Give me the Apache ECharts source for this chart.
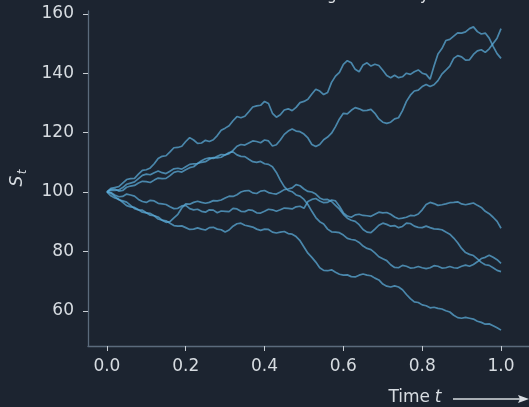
<!DOCTYPE html>
<html>
<head>
<meta charset="utf-8">
<script src="https://cdn.jsdelivr.net/npm/echarts@6/dist/echarts.min.js"></script>
<style>
  html, body { margin: 0; padding: 0; background: #1c2430; }
  #chart { width: 529px; height: 407px; }
</style>
</head>
<body>
<div id="chart"></div>
<script>
// Sample times (years) shared by every simulated price path
const times = [
  0.00, 0.01, 0.02, 0.03, 0.04, 0.05, 0.06, 0.07, 0.08, 0.09,
  0.10, 0.11, 0.12, 0.13, 0.14, 0.15, 0.16, 0.17, 0.18, 0.19,
  0.20, 0.21, 0.22, 0.23, 0.24, 0.25, 0.26, 0.27, 0.28, 0.29,
  0.30, 0.31, 0.32, 0.33, 0.34, 0.35, 0.36, 0.37, 0.38, 0.39,
  0.40, 0.41, 0.42, 0.43, 0.44, 0.45, 0.46, 0.47, 0.48, 0.49,
  0.50, 0.51, 0.52, 0.53, 0.54, 0.55, 0.56, 0.57, 0.58, 0.59,
  0.60, 0.61, 0.62, 0.63, 0.64, 0.65, 0.66, 0.67, 0.68, 0.69,
  0.70, 0.71, 0.72, 0.73, 0.74, 0.75, 0.76, 0.77, 0.78, 0.79,
  0.80, 0.81, 0.82, 0.83, 0.84, 0.85, 0.86, 0.87, 0.88, 0.89,
  0.90, 0.91, 0.92, 0.93, 0.94, 0.95, 0.96, 0.97, 0.98, 0.99, 1.00];

// Six simulated price paths S_t, all starting at 100
const pathA = [
  100, 101.2, 101.5, 101.8, 103, 104.2, 104.5, 104.6, 106, 107.3,
  107.5, 108.1, 109.5, 111.3, 112, 112.2, 113.5, 114.9, 115, 115.4,
  117, 118.3, 117.5, 116.4, 116.5, 117.4, 117, 117.6, 119, 120.8,
  121.5, 122.3, 124, 125.4, 125, 125.5, 127, 128.6, 129, 129.2,
  130.5, 129.8, 126.5, 125.2, 126, 127.6, 128, 127.4, 128.5, 130.1,
  130.5, 131.2, 133, 134.6, 134, 132.8, 133.5, 136.9, 139, 140.3,
  143, 144.2, 143.5, 141.3, 140.5, 142.8, 143.5, 142.4, 143, 142.6,
  141, 139.2, 138.5, 139.3, 138.5, 138.8, 140, 139.6, 140.5, 141.1,
  140, 139.6, 138, 142.4, 146.5, 148.3, 151, 151.4, 152.5, 153.6,
  153.5, 153.9, 155, 155.6, 154, 153.2, 153.5, 151.8, 149, 146.6, 145];
const pathB = [
  100, 100.6, 100.5, 100.7, 101.5, 102.6, 103, 103.4, 104.5, 105.6,
  106, 105.8, 106.5, 107.1, 106.5, 106.2, 107, 107.8, 108, 107.7,
  108.5, 109.3, 109.5, 109.6, 110.5, 111.2, 111.5, 111.3, 112, 112.6,
  112.5, 112.9, 114, 115.4, 116, 115.8, 116.5, 117.2, 117, 116.6,
  117.5, 117.2, 115.5, 115.9, 117.5, 119.4, 120.5, 121.2, 120.5, 120.3,
  119.5, 118.2, 116, 115.3, 116, 117.6, 118.5, 119.8, 122, 124.6,
  126.5, 126.3, 127.5, 128.4, 128, 127.4, 127.5, 127.8, 126.5, 124.6,
  123.5, 123.1, 123.5, 124.6, 125, 127.4, 130.5, 132.6, 134, 134.3,
  135.5, 136.2, 135.5, 136.1, 137.5, 139.7, 141, 142.4, 145, 145.9,
  145.5, 144.4, 144.5, 146.3, 147.5, 147.9, 147, 148.2, 150, 151.8, 155];
const pathC = [
  100, 100.9, 101, 100.3, 100.5, 101.6, 102, 102.2, 103, 103.6,
  103.5, 103.2, 104, 104.7, 104.5, 104.6, 105.5, 106.6, 107, 106.7,
  107.5, 108.2, 108.5, 109.6, 110, 110.2, 111, 111.6, 111.5, 111.7,
  112.5, 113.3, 113.5, 112.5, 112, 111.9, 111, 110.2, 110, 110.3,
  109.5, 109.3, 108.5, 106.6, 104, 101.8, 100.5, 100.1, 99, 98.6,
  97.5, 95.8, 93.5, 91.4, 90, 89.2, 87.5, 86.6, 86.5, 86.3,
  85.5, 84.4, 84, 83.8, 83, 81.8, 81, 80.6, 79.5, 78.2,
  77.5, 76.9, 75.5, 74.6, 74.5, 75.3, 75, 74.4, 74.5, 74.9,
  74.5, 74.2, 74.5, 75.2, 75, 74.4, 74.5, 74.9, 74.5, 74.4,
  75, 75.4, 75, 75.6, 76.5, 77.6, 78, 78.7, 78, 77.2, 76];
const pathD = [
  100, 99.8, 99, 98.4, 98.5, 99.3, 99, 98.6, 97.5, 96.8,
  96.5, 97.2, 97, 96.2, 96, 95.8, 95, 94.4, 94.5, 95.3,
  95.5, 94.4, 94, 94.2, 93.5, 93.2, 94, 93.9, 93, 93.6,
  93.5, 93.4, 94.5, 94.3, 93.5, 93.4, 94, 93.8, 93, 92.9,
  93.5, 94.2, 94, 93.5, 94, 94.6, 94.5, 94.3, 95, 95.2,
  94.5, 96.8, 97.5, 97.8, 97, 96.4, 96.5, 97.3, 97, 95.2,
  93, 91.9, 91.5, 92.3, 92.5, 92.1, 92, 91.8, 92.5, 93.2,
  93, 93.1, 92.5, 91.6, 91, 91.2, 91.5, 92.1, 92, 92.6,
  94, 95.8, 96.5, 96.1, 95.5, 95.7, 96, 96.4, 96.5, 96.7,
  96, 95.7, 96, 96.3, 95.5, 94.8, 93.5, 92.7, 91.5, 90.1, 87.8];
const pathE = [
  100, 99.6, 98.5, 97.4, 97, 96.6, 95.5, 94.4, 94, 93.9,
  93, 92.2, 92, 91.6, 90.5, 89.8, 90, 91.3, 92.5, 94.6,
  96, 95.9, 96.5, 96.9, 96.5, 96.2, 96.5, 97.1, 97, 97.3,
  98, 98.6, 98.5, 99.1, 100, 100.4, 100.5, 99.7, 99.5, 100.3,
  100.5, 99.8, 99.5, 99.3, 100, 100.8, 101, 101.4, 102.5, 102.1,
  101, 100.2, 100, 99.3, 98, 97.4, 97.5, 96.8, 95.5, 94.2,
  92.5, 91.2, 90.5, 90.1, 89, 87.4, 86.5, 86.3, 87.5, 88.8,
  89.5, 89.1, 88.5, 88.7, 88, 88.4, 89.5, 89.4, 88.5, 88.1,
  88, 88.5, 88, 87.6, 87.5, 87.3, 86.5, 85.8, 84.5, 82.9,
  81, 79.6, 79, 78.6, 77.5, 76.3, 75.5, 75.3, 74.5, 73.6, 73.2];
const pathF = [
  100, 98.7, 98, 97.6, 96.5, 95.4, 95, 94.8, 94, 93.2,
  93, 92.8, 92, 90.9, 90.5, 90.3, 89.5, 88.7, 88.5, 88.6,
  88, 87.4, 87.5, 87.9, 87.5, 87.2, 88, 88.1, 87.5, 87.3,
  86.5, 87.2, 88.5, 89.3, 89.5, 88.8, 88.5, 88.2, 87.5, 87.1,
  87.5, 87.4, 86.5, 86.2, 86.5, 86.7, 86, 85.8, 85, 83.6,
  81.5, 79.4, 78, 76.4, 74.5, 73.6, 73.5, 73.8, 73, 72.3,
  72, 72.1, 71.5, 71.4, 72, 72.4, 72, 71.8, 71, 70.4,
  69, 68.3, 68, 68.4, 68, 67.1, 65.5, 64.1, 63, 62.8,
  62, 61.7, 61, 61.2, 60.8, 60.6, 60, 59.6, 58.5, 57.7,
  57.5, 57.8, 57.5, 57.2, 56.5, 56.1, 55.5, 55.6, 55, 54.3, 53.5];

const paths = [pathA, pathB, pathC, pathD, pathE, pathF];

// Axis tick positions
const timeTicks = [0, 0.2, 0.4, 0.6, 0.8, 1.0];
const priceTicks = [60, 80, 100, 120, 140, 160];

const BG = '#1c2430';
const SPINE = '#5b6b7c';
const TEXT = '#d7dce1';
const LINE = '#5aaad6';
const FONT = '"DejaVu Sans", sans-serif';

const chart = echarts.init(document.getElementById('chart'), null, { renderer: 'canvas' });

const series = paths.map((vals, i) => ({
  type: 'line',
  name: 'path ' + (i + 1),
  data: vals.map((v, k) => [times[k], v]),
  showSymbol: false,
  symbol: 'none',
  smooth: false,
  lineStyle: { color: LINE, width: 1.7, opacity: 0.74 },
  emphasis: { disabled: true },
  silent: true
}));

chart.setOption({
  backgroundColor: BG,
  animation: false,
  grid: { left: 88, right: 0, top: 11, bottom: 61, containLabel: false },
  xAxis: {
    type: 'value',
    min: -0.048,
    max: 1.071,
    axisLine: { show: true, onZero: false, lineStyle: { color: SPINE, width: 1.3 } },
    axisTick: { show: true, customValues: timeTicks, length: 5, lineStyle: { color: '#c9ced4', width: 1 } },
    axisLabel: {
      customValues: timeTicks,
      formatter: v => v.toFixed(1),
      color: TEXT, fontSize: 17, fontFamily: FONT, margin: 12
    },
    splitLine: { show: false }
  },
  yAxis: {
    type: 'value',
    min: 48.15,
    max: 160.94,
    axisLine: { show: true, onZero: false, lineStyle: { color: SPINE, width: 1.3 } },
    axisTick: { show: true, customValues: priceTicks, length: 5, lineStyle: { color: '#c9ced4', width: 1 } },
    axisLabel: {
      customValues: priceTicks,
      formatter: v => String(v),
      color: TEXT, fontSize: 17, fontFamily: FONT, margin: 14
    },
    splitLine: { show: false }
  },
  graphic: [
    // chart title, sitting mostly above the canvas edge
    {
      type: 'text', x: 429, y: 3.5, silent: true,
      style: {
        text: 'Simulated Stock Prices: Growing Uncertainty',
        fill: '#e4e7ea', font: '15px ' + FONT,
        textAlign: 'right', textVerticalAlign: 'bottom'
      }
    },
    // y-axis name S_t
    {
      type: 'text', x: 18, y: 181, rotation: Math.PI / 2, silent: true,
      style: { text: 'S', fill: TEXT, font: 'italic 17px ' + FONT, textAlign: 'center', textVerticalAlign: 'middle' }
    },
    {
      type: 'text', x: 23, y: 172, rotation: Math.PI / 2, silent: true,
      style: { text: 't', fill: TEXT, font: 'italic 12px ' + FONT, textAlign: 'center', textVerticalAlign: 'middle' }
    },
    // x-axis name with arrow
    {
      type: 'text', x: 430, y: 398, silent: true,
      style: { text: 'Time', fill: TEXT, font: '17px ' + FONT, textAlign: 'right', textVerticalAlign: 'middle' }
    },
    {
      type: 'text', x: 438, y: 398, silent: true,
      style: { text: 't', fill: TEXT, font: 'italic 17px ' + FONT, textAlign: 'center', textVerticalAlign: 'middle' }
    },
    {
      type: 'line', silent: true,
      shape: { x1: 453, y1: 399, x2: 524, y2: 399 },
      style: { stroke: TEXT, lineWidth: 1.6 }
    },
    {
      type: 'polygon', silent: true,
      shape: { points: [[529, 399], [518, 395], [520, 399], [518, 403]] },
      style: { fill: TEXT }
    }
  ],
  series: series
});
</script>
</body>
</html>
